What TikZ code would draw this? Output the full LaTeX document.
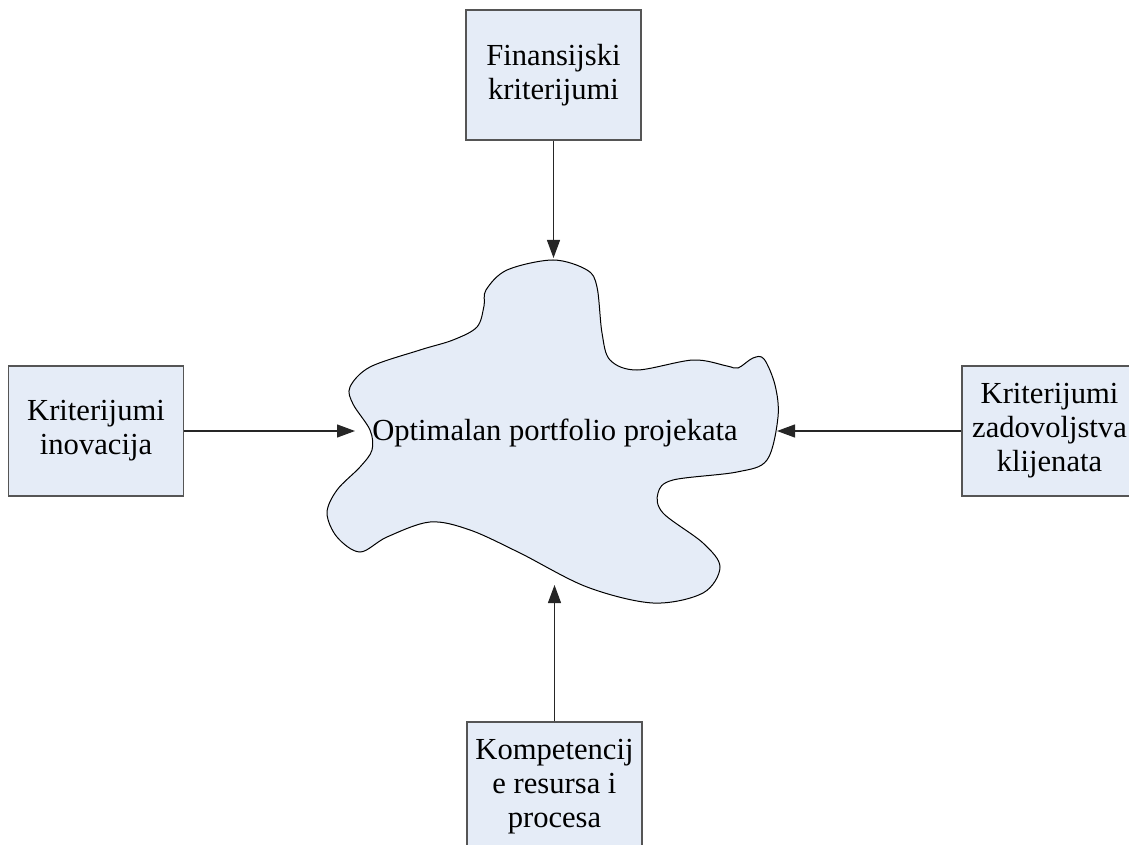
\documentclass[tikz,border=0pt]{standalone}
\usepackage{fontspec}
\setmainfont{Liberation Serif}
\usepackage{tikz}
\usetikzlibrary{arrows.meta}
\definecolor{boxfill}{HTML}{E5ECF7}
\definecolor{boxline}{HTML}{555555}
\newcommand{\tiparrow}{-{Triangle[length=9pt,width=6.5pt]}}

\begin{document}
\begin{tikzpicture}[x=0.5pt,y=-0.5pt,
		critbox/.style={draw=boxline,line width=0.6pt,fill=boxfill,minimum width=87.5pt,minimum height=65pt,align=center,inner sep=0pt,font=\fontsize{15.3}{17}\selectfont},
		feed/.style={line width=0.6pt,black!85}]
		\useasboundingbox (0,0) rectangle (1129,845);
		\clip (0,0) rectangle (1129,845);
		% oblak u sredini
		\draw[line width=0.5pt,fill=boxfill] plot[smooth cycle,tension=0.55] coordinates {
			(553,260) (507,270) (486,290) (484,306) (477,327) (453,340) (420,350) (370,367)
			(350,387) (353,404) (370,430) (372,450) (360,467) (337,490) (327,513) (337,537)
			(360,552) (387,537) (430,522) (470,530) (520,553) (587,587) (653,603) (703,593)
			(720,567) (703,543) (663,513) (658,493) (673,480) (737,472) (767,460) (778,417)
			(775,385) (764,359) (753,358) (738,368) (727,366) (693,360) (637,370) (610,360)
			(602,333) (597,287) (587,270)};
		\node[anchor=base,font=\fontsize{15.3}{17}\selectfont] (opt) at (555,440) {Optimalan portfolio projekata};
		\coordinate (ctop) at (553.5,258);
		\coordinate (cleft) at (355,431);
		\coordinate (cright) at (777,431);
		\coordinate (cbot) at (554.5,585);
		% kriterijumi
		\node[critbox] (fin) at (553.5,75) {Finansijski\\kriterijumi};
		\node[critbox] (ino) at (96,431) {Kriterijumi\\inovacija};
		\node[critbox] (kli) at (1049.5,431) {Kriterijumi\\zadovoljstva\\klijenata};
		\node[critbox] (kom) at (554.5,787) {Kompetencij\\e resursa i\\procesa};
		\draw[feed,\tiparrow] (fin.south) -- (ctop);
		\draw[feed,\tiparrow] (ino.east) -- (cleft);
		\draw[feed,\tiparrow] (kli.west) -- (cright);
		\draw[feed,\tiparrow] (kom.north) -- (cbot);
\end{tikzpicture}
\end{document}
